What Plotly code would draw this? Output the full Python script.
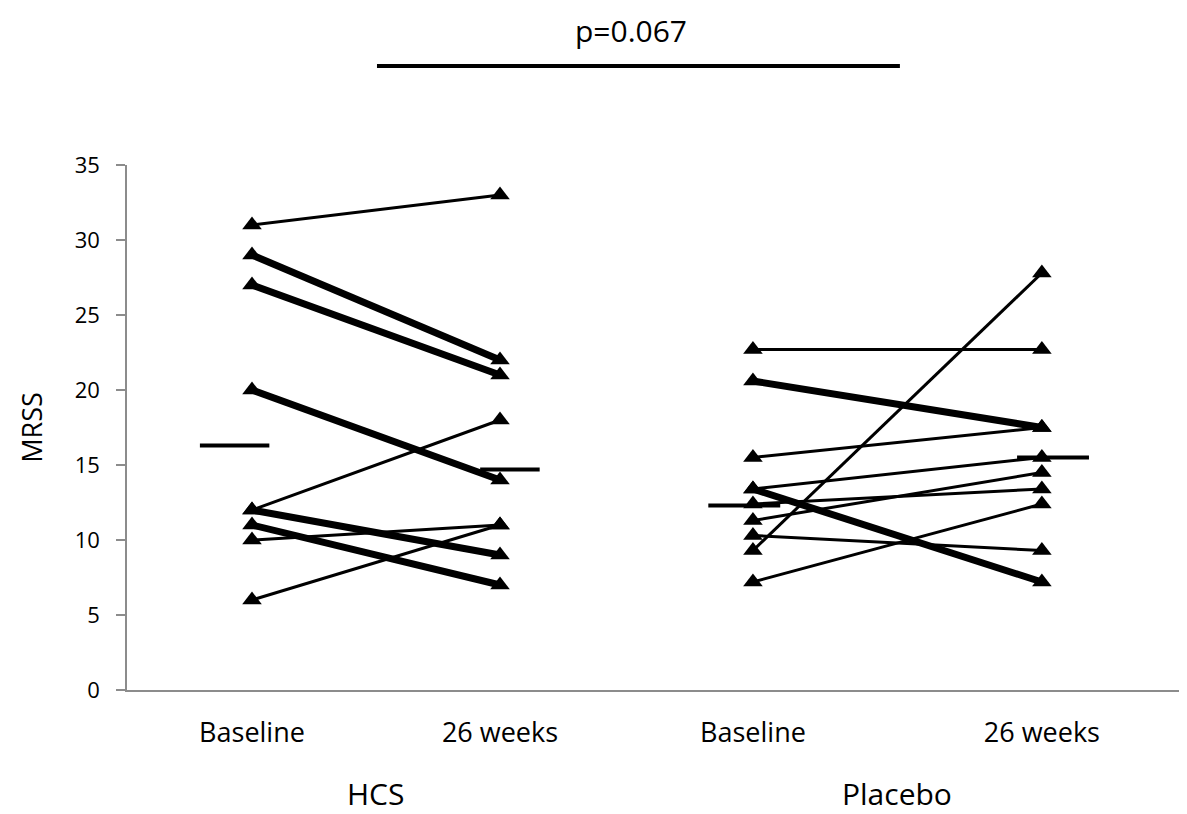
import plotly.graph_objects as go

# ---- data ----
categories = ["Baseline", "26 weeks", "Baseline", "26 weeks"]
groups = ["HCS", "Placebo"]

hcs_baseline = [31, 29, 27, 20, 12, 12, 11, 10, 6]
hcs_26w      = [33, 22, 21, 14, 18, 9, 7, 11, 11]
hcs_thick    = [False, True, True, True, False, True, True, False, False]

placebo_baseline = [22.7, 20.6, 15.5, 13.4, 13.4, 12.4, 11.3, 10.3, 9.3, 7.2]
placebo_26w      = [22.7, 17.5, 17.5, 15.5, 7.2, 13.4, 14.5, 9.3, 27.8, 12.4]
placebo_thick    = [False, True, False, False, True, False, False, False, False, False]

group_means = [16.3, 14.7, 12.3, 15.5]
p_value_text = "p=0.067"

y_ticks = [0, 5, 10, 15, 20, 25, 30, 35]

# ---- layout helpers (axis units) ----
cat_x = [1.0, 2.0, 3.02, 4.185]
mean_span = [(-0.21, 0.07), (-0.08, 0.16), (-0.18, 0.11), (-0.10, 0.19)]
FONT = "Open Sans"

fig = go.Figure()

def add_pairs(xb, xa, base, after, thick):
    for b, a, t in zip(base, after, thick):
        fig.add_trace(go.Scatter(
            x=[xb, xa], y=[b, a], mode="lines+markers",
            line=dict(color="black", width=7 if t else 3),
            marker=dict(symbol="triangle-up", size=17, color="black"),
            showlegend=False, hoverinfo="skip"))

add_pairs(cat_x[0], cat_x[1], hcs_baseline, hcs_26w, hcs_thick)
add_pairs(cat_x[2], cat_x[3], placebo_baseline, placebo_26w, placebo_thick)

for cx, m, (l, r) in zip(cat_x, group_means, mean_span):
    fig.add_trace(go.Scatter(
        x=[cx + l, cx + r], y=[m, m], mode="lines",
        line=dict(color="black", width=4),
        showlegend=False, hoverinfo="skip"))

fig.update_layout(
    width=1179, height=806,
    margin=dict(l=119, r=7, t=157, b=124),
    plot_bgcolor="white", paper_bgcolor="white",
    font=dict(family=FONT, color="black"),
    xaxis=dict(
        range=[0.496, 4.742], tickvals=cat_x, ticktext=categories,
        showgrid=False, zeroline=False, showline=True, linecolor="#8c8c8c", linewidth=1.5,
        ticks="", tickfont=dict(size=27, family=FONT), ticklabelstandoff=18,
    ),
    yaxis=dict(
        range=[0, 35], tickvals=y_ticks, showgrid=False, zeroline=False,
        showline=True, linecolor="#8c8c8c", linewidth=1.5,
        ticks="outside", ticklen=9, tickcolor="#8c8c8c", tickwidth=1.5,
        tickfont=dict(size=22, family=FONT), ticklabelstandoff=12,
        title=dict(text="MRSS", font=dict(size=27, family=FONT), standoff=24),
    ),
)

# group labels
for i, g in enumerate(groups):
    fig.add_annotation(x=(cat_x[2 * i] + cat_x[2 * i + 1]) / 2, y=-0.1962,
                       xref="x", yref="paper", yanchor="middle", xanchor="center",
                       text=g, showarrow=False, font=dict(size=30, family=FONT))

# p-value bracket
fig.add_annotation(x=0.4786, y=1.2562, xref="paper", yref="paper",
                   xanchor="center", yanchor="middle",
                   text=p_value_text, showarrow=False, font=dict(size=30, family=FONT))
fig.add_shape(type="line", xref="paper", yref="paper",
              x0=0.2374, x1=0.734, y0=1.1886, y1=1.1886,
              line=dict(color="black", width=4))

fig.write_html("out.html")
